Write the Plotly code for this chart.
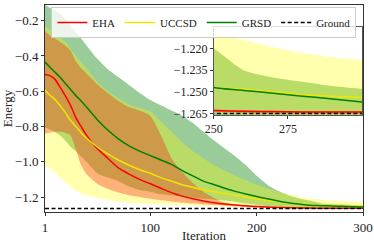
import plotly.graph_objects as go

iteration = [1, 5, 10, 15, 20, 25, 30, 35, 40, 50, 60, 70, 80, 90, 100, 110, 120, 130, 140,
             150, 160, 170, 180, 190, 200, 210, 220, 230, 240, 250, 260, 270, 280, 290, 300]

eha_mean = [-0.505, -0.51, -0.53, -0.575, -0.625, -0.68, -0.75, -0.80, -0.85, -0.925, -0.98, -1.035,
            -1.07, -1.10, -1.125, -1.15, -1.175, -1.195, -1.21, -1.222, -1.232, -1.24, -1.246, -1.25,
            -1.254, -1.257, -1.259, -1.261, -1.262, -1.263, -1.2635, -1.2637, -1.264, -1.264, -1.264]
eha_upper = [-0.26, -0.28, -0.30, -0.32, -0.34, -0.37, -0.43, -0.47, -0.50, -0.56, -0.61, -0.655,
             -0.69, -0.71, -0.74, -0.85, -0.98, -1.06, -1.12, -1.17, -1.205, -1.232, -1.243, -1.248,
             -1.252, -1.255, -1.257, -1.259, -1.2605, -1.262, -1.2628, -1.2632, -1.2635, -1.2635, -1.2635]
eha_lower = [-0.84, -0.835, -0.83, -0.83, -0.835, -0.85, -0.93, -1.02, -1.07, -1.125, -1.155, -1.175,
             -1.19, -1.20, -1.21, -1.218, -1.225, -1.232, -1.237, -1.242, -1.246, -1.25, -1.253, -1.256,
             -1.258, -1.26, -1.261, -1.262, -1.263, -1.264, -1.2645, -1.265, -1.265, -1.265, -1.265]

uccsd_mean = [-0.595, -0.62, -0.645, -0.68, -0.72, -0.765, -0.80, -0.835, -0.865, -0.915, -0.955, -0.99,
              -1.02, -1.045, -1.065, -1.09, -1.11, -1.13, -1.145, -1.16, -1.17, -1.18, -1.19, -1.20,
              -1.21, -1.218, -1.226, -1.233, -1.24, -1.247, -1.248, -1.25, -1.252, -1.253, -1.254]
uccsd_upper = [-0.23, -0.25, -0.27, -0.295, -0.32, -0.36, -0.40, -0.435, -0.47, -0.545, -0.60, -0.64,
               -0.675, -0.695, -0.715, -0.77, -0.83, -0.89, -0.94, -0.98, -1.02, -1.05, -1.08, -1.105,
               -1.13, -1.15, -1.17, -1.185, -1.198, -1.209, -1.214, -1.219, -1.223, -1.226, -1.228]
uccsd_lower = [-1.017, -1.035, -1.06, -1.09, -1.115, -1.14, -1.165, -1.18, -1.19, -1.205, -1.215, -1.225,
               -1.232, -1.237, -1.24, -1.243, -1.245, -1.247, -1.249, -1.251, -1.253, -1.255, -1.257, -1.258,
               -1.26, -1.261, -1.262, -1.263, -1.264, -1.265, -1.266, -1.267, -1.267, -1.268, -1.268]

grsd_mean = [-0.435, -0.46, -0.49, -0.52, -0.555, -0.59, -0.625, -0.655, -0.69, -0.76, -0.82, -0.87,
             -0.91, -0.94, -0.965, -0.99, -1.015, -1.05, -1.08, -1.11, -1.13, -1.15, -1.168, -1.183,
             -1.197, -1.21, -1.222, -1.232, -1.24, -1.247, -1.249, -1.251, -1.253, -1.255, -1.257]
grsd_upper = [-0.11, -0.125, -0.14, -0.16, -0.19, -0.23, -0.265, -0.30, -0.34, -0.415, -0.475, -0.52,
              -0.565, -0.61, -0.65, -0.68, -0.71, -0.74, -0.78, -0.83, -0.88, -0.925, -0.97, -1.02,
              -1.08, -1.13, -1.165, -1.19, -1.208, -1.22, -1.235, -1.24, -1.243, -1.246, -1.248]
grsd_lower = [-0.806, -0.815, -0.83, -0.85, -0.88, -0.915, -0.94, -0.97, -1.0, -1.065, -1.09, -1.11,
              -1.14, -1.16, -1.17, -1.185, -1.192, -1.198, -1.204, -1.21, -1.215, -1.22, -1.228, -1.237,
              -1.245, -1.252, -1.258, -1.262, -1.266, -1.268, -1.268, -1.268, -1.268, -1.268, -1.268]

ground_energy = -1.265

main_xticks = [1, 100, 200, 300]
main_yticks = [-0.2, -0.4, -0.6, -0.8, -1.0, -1.2]
inset_xticks = [250, 275]
inset_yticks = [-1.220, -1.235, -1.250, -1.265]

FONT = "Liberation Serif"
fig = go.Figure()

bands = [
    (grsd_lower, grsd_upper, "rgba(0,128,0,0.4)"),
    (uccsd_lower, uccsd_upper, "rgba(255,255,0,0.32)"),
    (eha_lower, eha_upper, "rgba(255,0,0,0.3)"),
]
lines = [
    ("EHA", eha_mean, "#ff0000"),
    ("UCCSD", uccsd_mean, "#f2e600"),
    ("GRSD", grsd_mean, "#008000"),
]

for xa, ya, main in [("x", "y", True), ("x2", "y2", False)]:
    for lo, up, col in bands:
        fig.add_trace(go.Scatter(x=iteration, y=lo, mode="lines", line=dict(width=0, shape="spline", smoothing=0.6),
                                 showlegend=False, hoverinfo="skip", xaxis=xa, yaxis=ya))
        fig.add_trace(go.Scatter(x=iteration, y=up, mode="lines", line=dict(width=0, shape="spline", smoothing=0.6),
                                 fill="tonexty", fillcolor=col, showlegend=False, hoverinfo="skip",
                                 xaxis=xa, yaxis=ya))
    for name, ys, col in lines:
        fig.add_trace(go.Scatter(x=iteration, y=ys, mode="lines", name=name,
                                 line=dict(color=col, width=1.5, shape="spline", smoothing=0.6),
                                 showlegend=main, xaxis=xa, yaxis=ya))
    fig.add_trace(go.Scatter(x=iteration, y=[ground_energy] * len(iteration), mode="lines", name="Ground",
                             line=dict(color="black", width=1.5, dash="4px,2.5px"),
                             showlegend=main, xaxis=xa, yaxis=ya))

axcol = "#333333"
fig.update_layout(
    width=374, height=243,
    margin=dict(l=45, r=11, t=5, b=31, autoexpand=False),
    plot_bgcolor="white", paper_bgcolor="white",
    font=dict(family=FONT, size=12, color="#222222"),
    showlegend=True,
    hovermode=False,
    legend=dict(orientation="h", x=0.02, y=0.99, xanchor="left", yanchor="top", traceorder="normal",
                bgcolor="rgba(255,255,255,0.8)", bordercolor="#cccccc", borderwidth=1,
                font=dict(family=FONT, size=11), tracegroupgap=0, itemwidth=30),
    xaxis=dict(domain=[0, 1], range=[1, 300], tickvals=main_xticks, ticks="outside", ticklen=3,
               tickcolor=axcol, showline=True, linecolor=axcol, linewidth=1, mirror=True,
               showgrid=False, zeroline=False, tickfont=dict(size=13), automargin=False,
               title=dict(text="Iteration", font=dict(size=13), standoff=0)),
    yaxis=dict(domain=[0, 1], range=[-1.285, -0.111], tickvals=main_yticks, tickformat=".1f",
               ticks="outside", ticklen=3, tickcolor=axcol, showline=True, linecolor=axcol, linewidth=1,
               mirror=True, showgrid=False, zeroline=False, tickfont=dict(size=13), automargin=False,
               title=dict(text="Energy", font=dict(size=13), standoff=2)),
    xaxis2=dict(domain=[0.531, 0.997], anchor="y2", range=[250, 300], tickvals=inset_xticks,
                ticks="outside", ticklen=3, tickcolor=axcol, showline=True, linecolor="#555555",
                linewidth=1, mirror=True, showgrid=False, zeroline=False, tickfont=dict(size=12),
                automargin=False),
    yaxis2=dict(domain=[0.469, 0.894], anchor="x2", range=[-1.266, -1.205], tickvals=inset_yticks,
                tickformat=".3f", ticks="outside", ticklen=3, tickcolor=axcol, showline=True,
                linecolor="#555555", linewidth=1, mirror=True, showgrid=False, zeroline=False,
                tickfont=dict(size=12), automargin=False),
)

fig.write_html("out.html", config={"displayModeBar": False},
               post_script="document.body.style.margin='0px';document.body.style.padding='0px';")
